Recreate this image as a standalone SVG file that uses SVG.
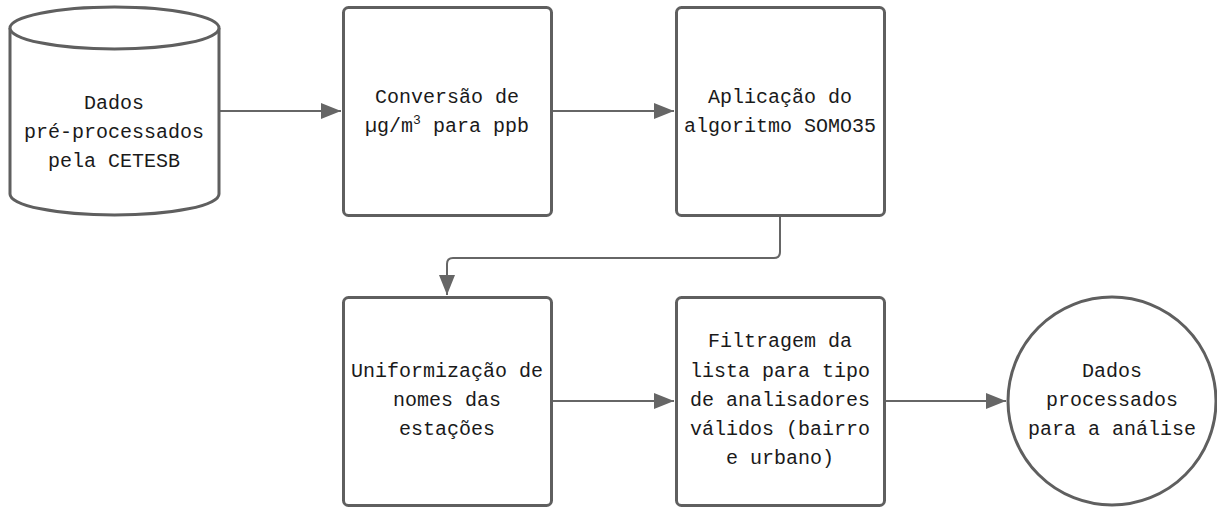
<svg xmlns="http://www.w3.org/2000/svg" width="1217" height="507" viewBox="0 0 1217 507">
<style>
.n{fill:#fff;stroke:#5f5f5f;stroke-width:3}
.t{font-family:"Liberation Mono","DejaVu Sans Mono",monospace;font-size:20px;fill:#1a1a1a;text-anchor:middle}
.c{fill:none;stroke:#666;stroke-width:2}
</style>
<defs>
<marker id="ah" markerUnits="userSpaceOnUse" markerWidth="20" markerHeight="16" refX="20" refY="8" orient="auto">
<path d="M0,0 L20,8 L0,16 Z" fill="#666"/>
</marker>
</defs>
<g id="connectors">
<path class="c" d="M219,111 L341,111" marker-end="url(#ah)"/>
<path class="c" d="M552,111 L674,111" marker-end="url(#ah)"/>
<path class="c" d="M780,216 L780,252 Q780,258 774,258 L453,258 Q447,258 447,264 L447,295" marker-end="url(#ah)"/>
<path class="c" d="M552,401 L674,401" marker-end="url(#ah)"/>
<path class="c" d="M885,401 L1006,401" marker-end="url(#ah)"/>
</g>
<g id="node-source">
<path class="n" d="M10,28 L10,194 A104.5,21 0 0 0 219,194 L219,28 A104.5,21 0 0 0 10,28 Z"/>
<path class="n" d="M10,28 A104.5,21 0 0 0 219,28"/>
<text class="t" x="114" y="109">Dados</text>
<text class="t" x="114" y="138">pré-processados</text>
<text class="t" x="114" y="167">pela CETESB</text>
</g>
<g id="node-conversao">
<rect class="n" x="343.5" y="7.5" width="208" height="208" rx="5"/>
<text class="t" x="447" y="103">Conversão de</text>
<text class="t" x="447" y="132">µg/m<tspan font-size="13" dy="-8">3</tspan><tspan dy="8"> para ppb</tspan></text>
</g>
<g id="node-somo35">
<rect class="n" x="676.5" y="7.5" width="208" height="208" rx="5"/>
<text class="t" x="780" y="103">Aplicação do</text>
<text class="t" x="780" y="132">algoritmo SOMO35</text>
</g>
<g id="node-uniformizacao">
<rect class="n" x="343.5" y="297.5" width="208" height="208" rx="5"/>
<text class="t" x="447" y="377">Uniformização de</text>
<text class="t" x="447" y="406">nomes das</text>
<text class="t" x="447" y="435">estações</text>
</g>
<g id="node-filtragem">
<rect class="n" x="676.5" y="297.5" width="208" height="208" rx="5"/>
<text class="t" x="780" y="347">Filtragem da</text>
<text class="t" x="780" y="377">lista para tipo</text>
<text class="t" x="780" y="406">de analisadores</text>
<text class="t" x="780" y="435">válidos (bairro</text>
<text class="t" x="780" y="464">e urbano)</text>
</g>
<g id="node-resultado">
<circle class="n" cx="1112" cy="401" r="104"/>
<text class="t" x="1112" y="377">Dados</text>
<text class="t" x="1112" y="406">processados</text>
<text class="t" x="1112" y="435">para a análise</text>
</g>
</svg>
